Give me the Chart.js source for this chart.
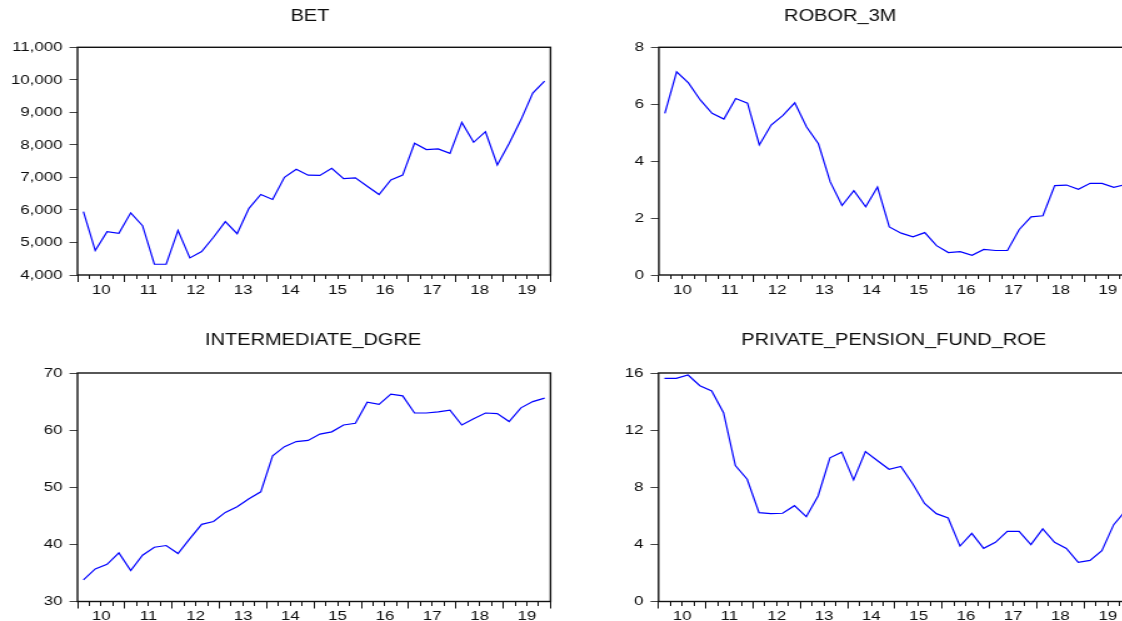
<!DOCTYPE html>
<html>
<head>
<meta charset="utf-8">
<title>BET, ROBOR_3M, INTERMEDIATE_DGRE, PRIVATE_PENSION_FUND_ROE</title>
<script src="https://cdn.jsdelivr.net/npm/chart.js@4.4.1/dist/chart.umd.min.js"></script>
<style>
  html, body { margin: 0; padding: 0; background: #fff; }
  body { width: 1122px; height: 621px; overflow: hidden; position: relative; }
  canvas { position: absolute; transform-origin: 0 0; }
</style>
</head>
<body>
<canvas id="bet"></canvas>
<canvas id="robor"></canvas>
<canvas id="dgre"></canvas>
<canvas id="roe"></canvas>
<script>
// Quarterly observations, 2010Q1 .. 2019Q4
const yearLabels = ['10', '11', '12', '13', '14', '15', '16', '17', '18', '19'];

const betValues = [
  5950, 4750, 5330, 5280, 5910, 5515, 4330, 4330, 5370, 4525,
  4720, 5160, 5640, 5270, 6050, 6475, 6320, 7005, 7250, 7070,
  7060, 7280, 6965, 6985, 6730, 6475, 6925, 7070, 8050, 7855,
  7875, 7740, 8690, 8080, 8405, 7385, 8040, 8770, 9590, 9960
];

const roborValues = [
  5.68, 7.14, 6.75, 6.15, 5.68, 5.48, 6.20, 6.04, 4.57, 5.27,
  5.61, 6.05, 5.20, 4.61, 3.27, 2.44, 2.96, 2.40, 3.09, 1.69,
  1.47, 1.34, 1.49, 1.03, 0.79, 0.82, 0.69, 0.90, 0.86, 0.86,
  1.60, 2.04, 2.08, 3.14, 3.16, 3.01, 3.22, 3.22, 3.08, 3.18
];

const dgreValues = [
  33.8, 35.7, 36.5, 38.5, 35.4, 38.1, 39.5, 39.8, 38.4, 41.0,
  43.5, 44.0, 45.6, 46.6, 48.0, 49.2, 55.5, 57.1, 58.0, 58.2,
  59.3, 59.7, 60.9, 61.2, 64.9, 64.5, 66.3, 66.0, 63.0, 63.0,
  63.2, 63.5, 60.9, 62.0, 63.0, 62.9, 61.5, 63.9, 65.0, 65.6
];

const roeValues = [
  15.63, 15.63, 15.86, 15.11, 14.74, 13.22, 9.52, 8.56, 6.22, 6.15,
  6.18, 6.71, 5.94, 7.39, 10.06, 10.46, 8.52, 10.50, 9.87, 9.26,
  9.45, 8.25, 6.87, 6.15, 5.85, 3.88, 4.77, 3.72, 4.14, 4.91,
  4.91, 3.98, 5.08, 4.14, 3.72, 2.74, 2.88, 3.56, 5.38, 6.35
];

// Value axis ranges: [min, max, step]
const betAxis = [4000, 11000, 1000];
const roborAxis = [0, 8, 2];
const dgreAxis = [30, 70, 10];
const roeAxis = [0, 16, 4];

// Horizontal stretch of the rendered graphs
const STRETCH = 1.25;
const FONT = '"Liberation Sans", Arial, Helvetica, sans-serif';
const TEXT = '#0d0d0d';
const quarterCount = yearLabels.length * 4;

const framePlugin = {
  id: 'frame',
  afterDatasetsDraw(chart) {
    const { ctx, chartArea: a } = chart;
    ctx.save();
    ctx.strokeStyle = '#111';
    ctx.lineWidth = 1.4;
    ctx.strokeRect(a.left, a.top, a.right - a.left, a.bottom - a.top);
    ctx.restore();
  }
};

function drawPanel(id, title, values, axis, fmt, box) {
  const canvas = document.getElementById(id);
  const cw = Math.round((box.right - box.left) / STRETCH);
  const ch = box.height;
  canvas.width = cw;
  canvas.height = ch;
  canvas.style.width = cw + 'px';
  canvas.style.height = ch + 'px';
  canvas.style.left = box.left + 'px';
  canvas.style.top = box.top + 'px';
  canvas.style.transform = 'scaleX(' + STRETCH + ')';

  const yWidth = (box.plotLeft - box.left) / STRETCH;
  const rightWidth = Math.max(0, cw - (box.plotRight - box.left) / STRETCH);
  const titleLine = 16 * 1.2;
  const padTop = box.titleY - box.top - titleLine / 2;
  const padBottom = box.plotTop - box.top - titleLine - padTop;
  const xHeight = ch - (box.plotBottom - box.top);

  const points = values.map((v, i) => ({ x: i + 0.5, y: v }));

  new Chart(canvas, {
    type: 'line',
    data: {
      datasets: [{
        data: points,
        borderColor: '#0000ff',
        borderWidth: 1.2,
        pointRadius: 0,
        tension: 0,
        fill: false
      }]
    },
    options: {
      responsive: false,
      animation: false,
      devicePixelRatio: 1,
      layout: { padding: 0 },
      plugins: {
        legend: { display: false },
        tooltip: { enabled: false },
        title: {
          display: true,
          text: title,
          color: TEXT,
          font: { family: FONT, size: 16, weight: 'normal', lineHeight: 1.2 },
          padding: { top: padTop, bottom: padBottom }
        }
      },
      scales: {
        x: {
          type: 'linear',
          position: 'bottom',
          min: 0,
          max: quarterCount,
          border: { display: false },
          grid: {
            drawOnChartArea: false,
            drawTicks: true,
            tickLength: 7,
            tickColor: '#111',
            tickWidth: 1,
            tickBorderDash: (c) => (c.tick && Math.round(c.tick.value) % 4 === 0) ? [] : [4, 30]
          },
          ticks: {
            stepSize: 1,
            autoSkip: false,
            maxRotation: 0,
            padding: 0,
            color: TEXT,
            font: { family: FONT, size: 13.5 },
            callback: (v) => {
              const q = Math.round(v);
              return (q % 4 === 2) ? yearLabels[(q - 2) / 4] : '';
            }
          },
          afterFit: (s) => { s.height = xHeight; }
        },
        y: {
          type: 'linear',
          position: 'left',
          min: axis[0],
          max: axis[1],
          border: { display: false },
          grid: {
            drawOnChartArea: false,
            drawTicks: true,
            tickLength: 6.4,
            tickColor: '#444',
            tickWidth: 1
          },
          ticks: {
            stepSize: axis[2],
            padding: 5.6,
            color: TEXT,
            font: { family: FONT, size: 13.5 },
            callback: fmt
          },
          afterFit: (s) => { s.width = yWidth; }
        },
        yRight: {
          type: 'linear',
          position: 'right',
          display: true,
          border: { display: false },
          grid: { display: false },
          ticks: { display: false },
          afterFit: (s) => { s.width = rightWidth; }
        }
      }
    },
    plugins: [framePlugin]
  });
}

const thousands = (v) => v.toLocaleString('en-US');
const plain = (v) => String(v);

drawPanel('bet', 'BET', betValues, betAxis, thousands, {
  left: 0, right: 620, top: 0, height: 312,
  plotLeft: 77.5, plotRight: 550.5, plotTop: 47.3, plotBottom: 275, titleY: 17
});
drawPanel('robor', 'ROBOR_3M', roborValues, roborAxis, plain, {
  left: 548.6, right: 1131.4, top: 0, height: 312,
  plotLeft: 658.5, plotRight: 1131.4, plotTop: 47.3, plotBottom: 275, titleY: 17
});
drawPanel('dgre', 'INTERMEDIATE_DGRE', dgreValues, dgreAxis, plain, {
  left: 0, right: 626, top: 320, height: 312,
  plotLeft: 77.5, plotRight: 550.5, plotTop: 373, plotBottom: 601.5, titleY: 341
});
drawPanel('roe', 'PRIVATE_PENSION_FUND_ROE', roeValues, roeAxis, plain, {
  left: 560, right: 1228, top: 320, height: 312,
  plotLeft: 658.5, plotRight: 1131.4, plotTop: 373, plotBottom: 601.5, titleY: 341
});
</script>
</body>
</html>
